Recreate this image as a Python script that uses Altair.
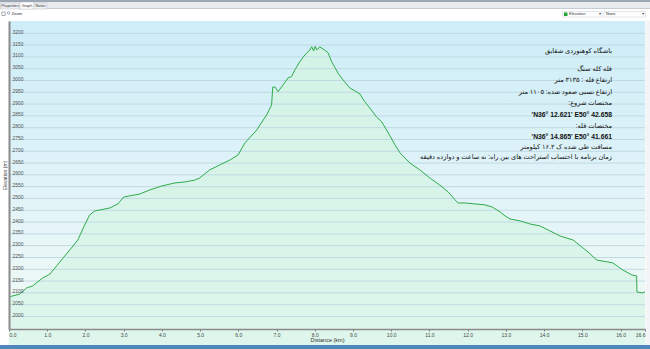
import altair as alt
import pandas as pd

# ---------------- data ----------------
distance_km = [0.00, 0.28, 0.46, 0.62, 0.88, 1.07, 1.33, 1.59, 1.80, 1.98,
               2.11, 2.24, 2.37, 2.64, 2.85, 3.00, 3.16, 3.42, 3.68, 4.00,
               4.34, 4.60, 4.86, 4.99, 5.25, 5.51, 5.78, 5.99, 6.17, 6.48,
               6.74, 6.87, 6.90, 6.96, 7.04, 7.17, 7.30, 7.39, 7.48, 7.61,
               7.74, 7.87, 7.92, 7.97, 8.01, 8.05, 8.13, 8.26, 8.35, 8.44,
               8.61, 8.74, 8.92, 9.05, 9.18, 9.31, 9.44, 9.62, 9.75, 9.88,
               10.10, 10.23, 10.49, 10.75, 11.01, 11.27, 11.49, 11.67, 11.75, 11.93,
               12.19, 12.45, 12.64, 12.85, 12.98, 13.11, 13.37, 13.63, 13.89, 14.10,
               14.42, 14.76, 15.02, 15.15, 15.38, 15.67, 15.80, 16.06, 16.30, 16.42,
               16.43, 16.56, 16.64]
elevation_m = [2083, 2095, 2121, 2130, 2163, 2180, 2231, 2282, 2324, 2388,
               2430, 2447, 2451, 2460, 2477, 2506, 2511, 2519, 2536, 2553,
               2566, 2570, 2578, 2587, 2621, 2642, 2663, 2684, 2735, 2790,
               2854, 2896, 2972, 2972, 2953, 2981, 3011, 3016, 3045, 3080,
               3108, 3129, 3143, 3125, 3145, 3129, 3142, 3129, 3117, 3080,
               3031, 3002, 2968, 2956, 2943, 2910, 2883, 2845, 2825, 2790,
               2727, 2693, 2650, 2621, 2587, 2557, 2528, 2494, 2481, 2481,
               2477, 2473, 2464, 2443, 2426, 2413, 2405, 2392, 2384, 2367,
               2341, 2324, 2290, 2273, 2239, 2231, 2227, 2197, 2176, 2172,
               2104, 2100, 2104]

y_tick_values = list(range(2000, 3201, 50))
x_tick_values = [0, 1, 2, 3, 4, 5, 6, 7, 8, 9, 10, 11, 12, 13, 14, 15, 16, 16.64]

note_lines = [
    "باشگاه کوهنوردی شقایق",
    "قله کله سنگ",
    "ارتفاع قله : ۳۱۳۵ متر",
    "ارتفاع نسبی صعود شده: ۱۱۰۵ متر",
    "مختصات شروع:\u200F",
    "'N36° 12.621' E50° 42.658",
    "مختصات قله:\u200F",
    "'N36° 14.865' E50° 41.661",
    "مسافت طی شده ک ۱۶.۲ کیلومتر",
    "زمان برنامه با احتساب استراحت های بین راه: نه ساعت و دوازده دقیقه",
]
note_bold = [False, False, False, False, False, True, False, True, False, False]

tab_labels = ["Properties", "Graph", "Notes"]

# ---------------- layout ----------------
W, H = 636, 308          # plot area
PL, PT = 9, 21           # plot origin in the window
note_y = [51, 68.5, 80, 91.5, 103, 114.5, 125.5, 136.5, 147, 157]
note_right = 612

df = pd.DataFrame({"d": distance_km, "e": elevation_m})
grid_df = pd.DataFrame({"v": y_tick_values})
one = alt.Data(values=[{}])

xs = alt.Scale(domain=[0, 16.64], nice=False, zero=False)
ys = alt.Scale(domain=[1947, 3252], nice=False, zero=False)

bg_grad = {"gradient": "linear", "x1": 0, "x2": 0, "y1": 0, "y2": 1,
           "stops": [{"offset": 0, "color": "#cdedf8"},
                     {"offset": 0.6, "color": "#e3f4f8"},
                     {"offset": 1, "color": "#f2fbf5"}]}
area_grad = {"gradient": "linear", "x1": 0, "x2": 0, "y1": 0, "y2": 1,
             "stops": [{"offset": 0, "color": "#d3f3e7"},
                       {"offset": 1, "color": "#eefaf1"}]}

bg = alt.Chart(one).mark_rect(fill=bg_grad).encode(
    x=alt.value(0), x2=alt.value(W), y=alt.value(0), y2=alt.value(H))

x_axis = alt.Axis(title="Distance (km)", values=x_tick_values, format=".1f",
                  labelFlush=True, labelFontSize=5, labelColor="#444",
                  labelFont="Liberation Sans", tickSize=2, tickColor="#777",
                  labelPadding=1, domainColor="#8a8a8a", domainWidth=1.5,
                  grid=False, titleFontSize=5.5, titleFont="Liberation Sans",
                  titleFontWeight="normal", titleColor="#333", titleY=8.5, zindex=1)
y_axis = alt.Axis(title="Elevation (m)", values=y_tick_values, format="d",
                  labelAlign="left", labelBaseline="alphabetic", labelPadding=-3,
                  ticks=False, tickSize=0, labelFontSize=5, labelColor="#555",
                  labelFont="Liberation Sans", domainColor="#8a8a8a", domainWidth=2,
                  grid=False, zindex=1,
                  titleFontSize=5, titleFont="Liberation Sans", titleFontWeight="normal",
                  titleColor="#444", titleX=-4.5, titleY=H / 2, titleAngle=-90,
                  titleAlign="center", titleBaseline="middle", labelOverlap=False)

area = alt.Chart(df).mark_area(fill=area_grad, interpolate="linear").encode(
    x=alt.X("d:Q", scale=xs, axis=x_axis),
    y=alt.Y("e:Q", scale=ys, axis=y_axis))

grid = alt.Chart(grid_df).mark_rule(color="#c0d9e3", strokeWidth=1).encode(
    y=alt.Y("v:Q", scale=ys, axis=y_axis))

line = alt.Chart(df).mark_line(color="#2eab4b", strokeWidth=1, interpolate="linear").encode(
    x=alt.X("d:Q", scale=xs, axis=x_axis),
    y=alt.Y("e:Q", scale=ys, axis=y_axis))

layers = [bg, area, grid, line]

# annotation block
for txt, yy, b in zip(note_lines, note_y, note_bold):
    layers.append(alt.Chart(one).mark_text(
        align="right", baseline="middle", fontSize=6.6 if not b else 6.8,
        fontWeight="bold" if b else "normal",
        font="Liberation Sans, DejaVu Sans", color="#111"
    ).encode(text=alt.value(txt), x=alt.value(note_right - PL), y=alt.value(yy - PT)))

# window chrome (tabs, toolbar, dropdowns, taskbar)
def rect(x0, x1, y0, y1, **kw):
    return alt.Chart(one).mark_rect(**kw).encode(
        x=alt.value(x0 - PL), x2=alt.value(x1 - PL),
        y=alt.value(y0 - PT), y2=alt.value(y1 - PT))

def label(txt, x, y, size=4.5, align="left", color="#333"):
    return alt.Chart(one).mark_text(align=align, baseline="middle", fontSize=size,
                                    font="Liberation Sans", color=color).encode(
        text=alt.value(txt), x=alt.value(x - PL), y=alt.value(y - PT))

layers += [
    rect(0, 650, 0, 2, fill="#9ba7b3"),
    rect(0, 650, 2, 9, fill="#e9ebee"),
    rect(0, 650, 9, 20.5, fill="#ffffff"),
    rect(0, 650, 8.5, 9, fill="#a9b0b8"),
    rect(0.5, 20, 3, 9, fill="#eef0f2", stroke="#b5bcc4", strokeWidth=0.5),
    rect(20, 34, 2, 9.2, fill="#ffffff", stroke="#aab2bb", strokeWidth=0.5),
    rect(34, 47, 3, 9, fill="#eef0f2", stroke="#b5bcc4", strokeWidth=0.5),
    label(tab_labels[0], 10.2, 6, size=3.8, align="center"),
    label(tab_labels[1], 27, 5.8, size=3.8, align="center"),
    label(tab_labels[2], 40.5, 6, size=3.8, align="center"),
    rect(1.8, 5.2, 12, 15.5, fill="#ffffff", stroke="#777", strokeWidth=0.6),
    alt.Chart(one).mark_point(shape="circle", size=6, stroke="#4a6f9c", strokeWidth=0.8).encode(
        x=alt.value(8.5 - PL), y=alt.value(13 - PT)),
    label("Zoom", 11.5, 14, size=4.2),
    rect(562.5, 602, 11.5, 17, fill="#ffffff", stroke="#c9ccd0", strokeWidth=0.5),
    rect(564, 567.5, 12.5, 16, fill="#21a83a"),
    label("Elevation", 569, 14.2, size=4),
    label("\u25BE", 600, 14.2, size=4, align="center", color="#444"),
    rect(604, 645.5, 11.5, 17, fill="#ffffff", stroke="#c9ccd0", strokeWidth=0.5),
    label("None", 606, 14.2, size=4),
    label("\u25BE", 643, 14.2, size=4, align="center", color="#444"),
    rect(645.5, 650, 20.5, 345, fill="#f3f4f6"),
    rect(0, 650, 345, 349, fill="#4f86bd"),
]

chart = alt.layer(*layers).properties(
    width=W, height=H,
    padding={"left": PL, "top": PT, "right": 650 - PL - W, "bottom": 349 - PT - H},
    autosize=alt.AutoSizeParams(type="none"),
    background="#ffffff",
).configure_view(strokeWidth=0)

chart.save("out.html", embed_options={"renderer": "svg", "actions": False})
